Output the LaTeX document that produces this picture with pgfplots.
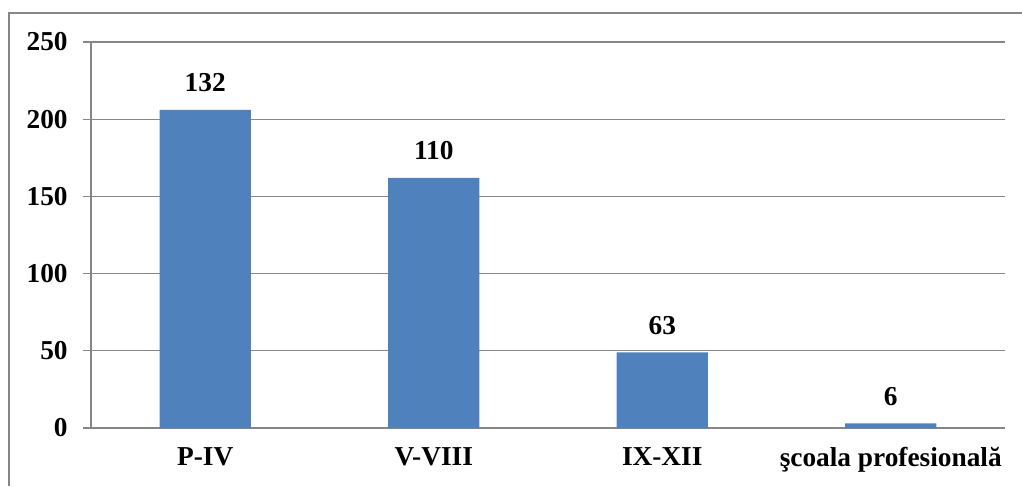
\documentclass[border=0pt]{standalone}
\usepackage{fontspec}
\setmainfont{Liberation Serif}
\usepackage{pgfplots}
\pgfplotsset{compat=1.18}
\usepackage{pgfplotstable}
\definecolor{barblue}{RGB}{79,129,189}
\definecolor{gridgray}{RGB}{134,134,134}
\pgfplotstableread{
x y label
0 206 132
1 162 110
2 49 63
3 3 6
}\datatable
\begin{document}
\begin{tikzpicture}
\useasboundingbox (0,0) rectangle (766.5pt,364.5pt);
\draw[gridgray, line width=1.1pt] (6.75pt,0) -- (6.75pt,354.75pt) -- (766.5pt,354.75pt);
\begin{axis}[
  at={(68.25pt,43.5pt)}, anchor=south west,
  scale only axis, width=685.5pt, height=289.5pt,
  xmin=-0.5, xmax=3.5, ymin=0, ymax=250,
  axis x line*=bottom, axis y line*=left,
  axis line style={gridgray, line width=1pt, -},
  ytick={0,50,100,150,200,250},
  ymajorgrids, grid style={gridgray, line width=1pt},
  xtick={0,1,2,3},
  xticklabels={P-IV, V-VIII, IX-XII, şcoala profesională},
  extra x ticks={-0.5,0.5,1.5,2.5,3.5},
  extra x tick labels={},
  extra x tick style={major tick length=6pt, tick style={gridgray, line width=1pt}, tick align=outside, grid=none},
  x tick style={draw=none},
  y tick style={gridgray, line width=1pt},
  major tick length=6pt, tick align=outside,
  tick label style={font=\fontsize{20.5}{23}\selectfont\bfseries},
  /pgf/number format/assume math mode=true,
  yticklabel style={xshift=-8pt},
  xticklabel style={yshift=-5pt},
  clip=false,
]
\addplot[ybar, fill=barblue, draw=none, bar width=0.4,
  nodes near coords, point meta=explicit symbolic,
  nodes near coords style={font=\fontsize{20.5}{23}\selectfont\bfseries, black, yshift=10pt}]
  table[x=x, y=y, meta=label] {\datatable};
\end{axis}
\end{tikzpicture}
\end{document}
